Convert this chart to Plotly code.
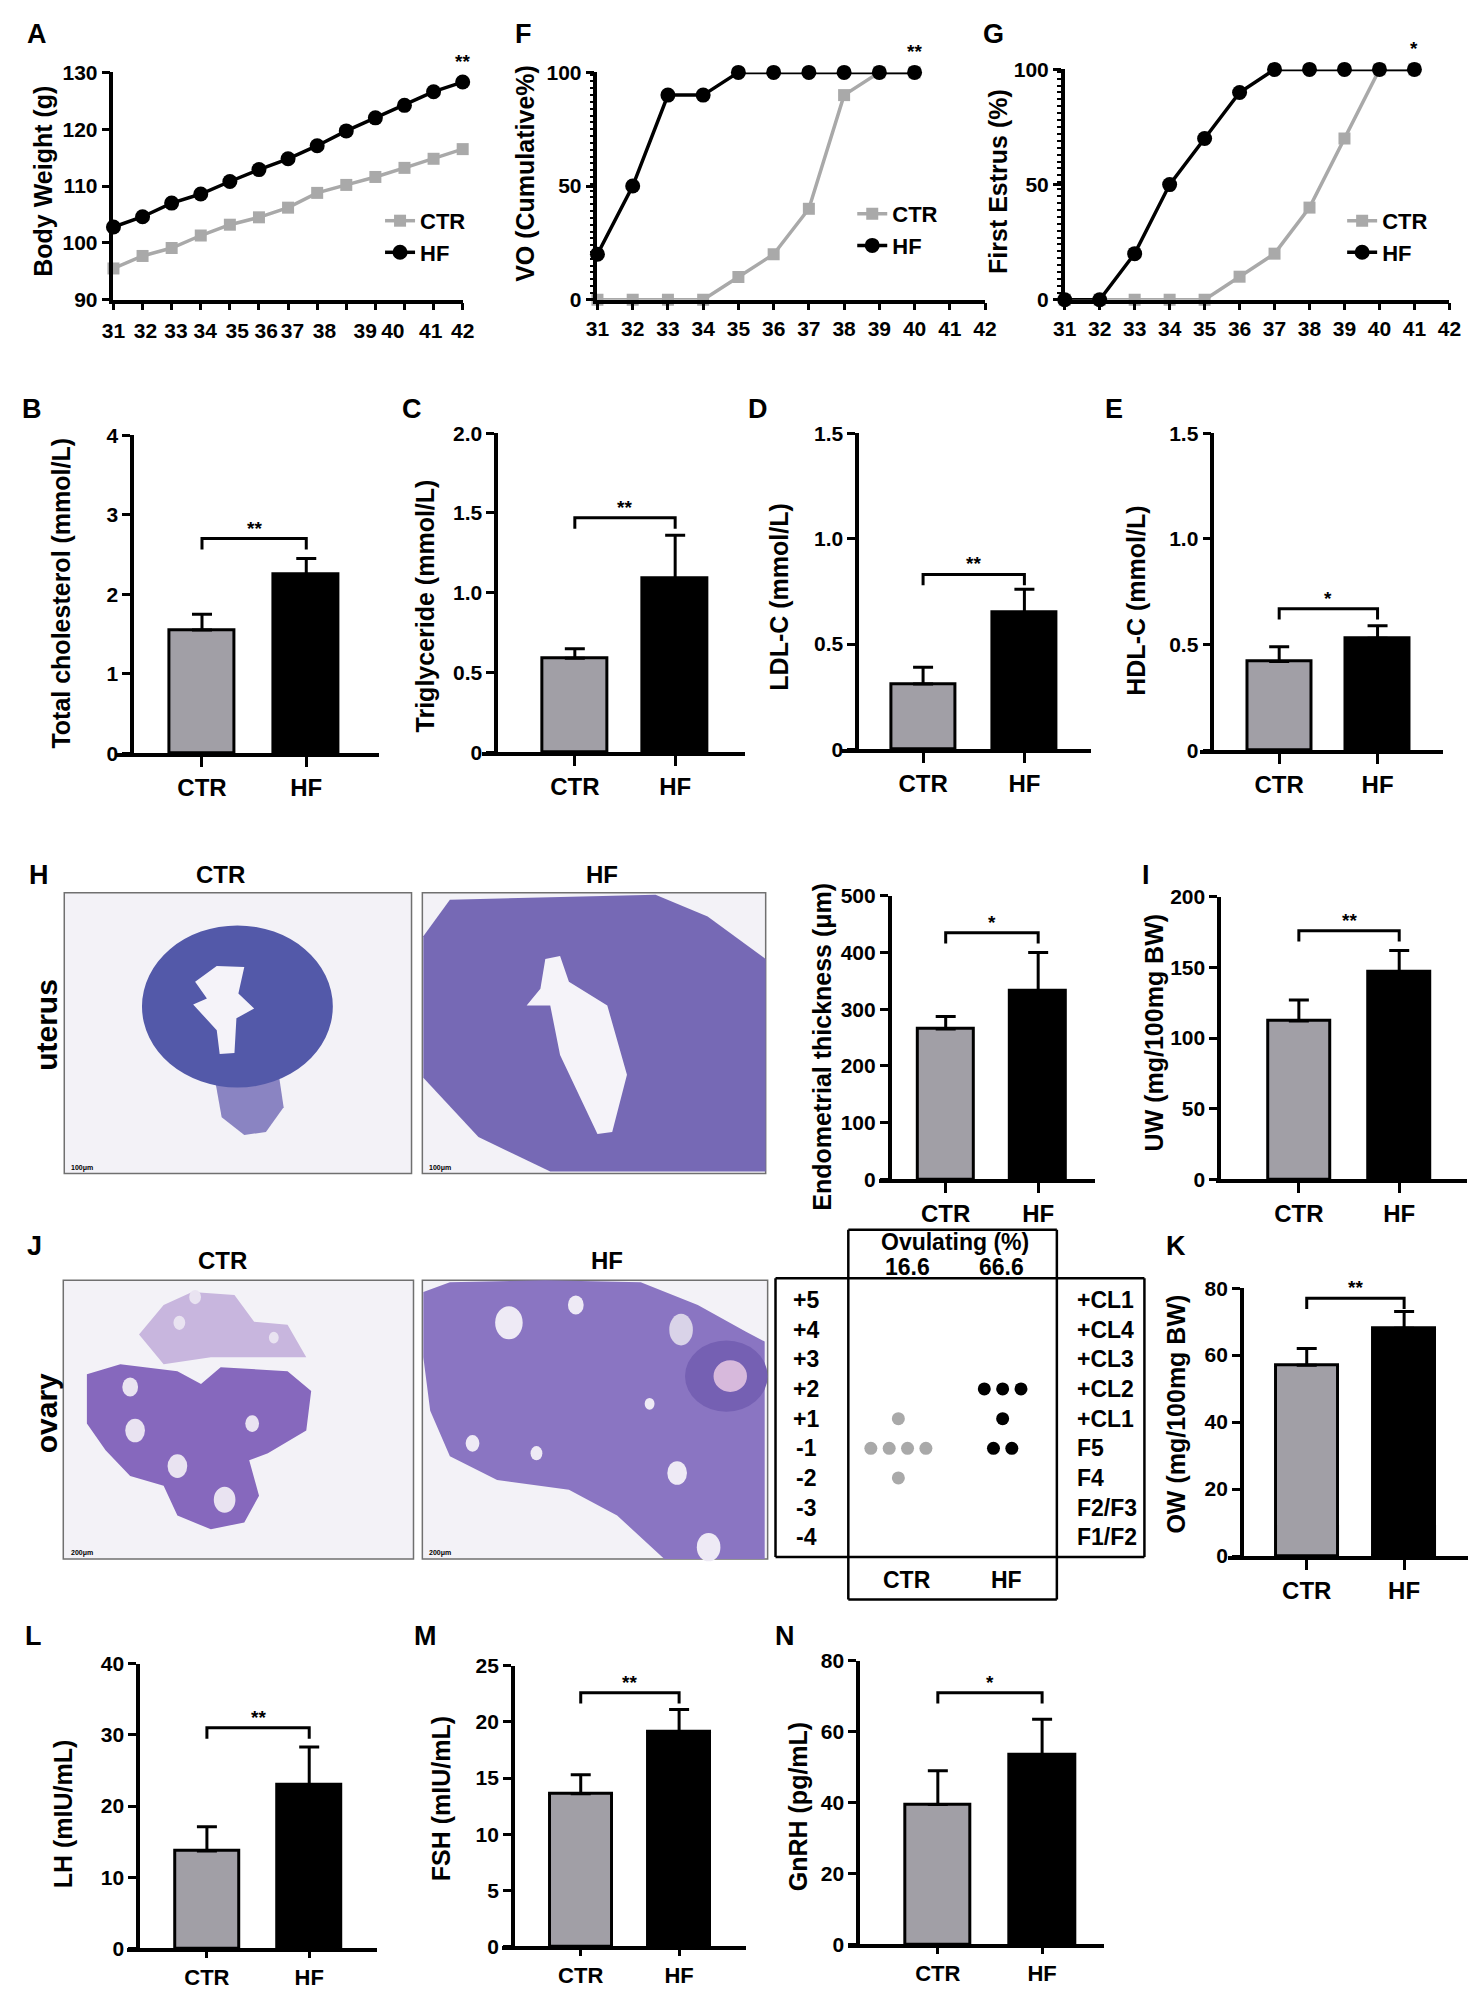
import plotly.graph_objects as go

W, H = 1476, 1989
FONT = "Arial, 'Liberation Sans', Helvetica, sans-serif"
GREY_BAR = "#a19fa6"
GREY_LINE = "#a9a9a9"

groups = ["CTR", "HF"]

# A - body weight (13 weighings, day labels 31..42)
bw_index = list(range(13))
bw_ctr = [95.5, 97.7, 99.1, 101.3, 103.2, 104.5, 106.2, 108.8, 110.2, 111.6, 113.2, 114.8, 116.5]
bw_hf = [102.8, 104.6, 107.0, 108.6, 110.8, 112.9, 114.8, 117.1, 119.7, 122.0, 124.2, 126.6, 128.3]
bw_day_labels = ["31", "32", "33", "34", "35", "36", "37", "38", "39", "40", "41", "42"]
bw_day_pos = [0, 1.1, 2.15, 3.15, 4.25, 5.25, 6.15, 7.25, 8.65, 9.6, 10.9, 12]

# F - vaginal opening
vo_days = [31, 32, 33, 34, 35, 36, 37, 38, 39, 40]
vo_ctr = [0, 0, 0, 0, 10, 20, 40, 90, 100, 100]
vo_hf = [20, 50, 90, 90, 100, 100, 100, 100, 100, 100]

# G - first estrus
fe_days = [31, 32, 33, 34, 35, 36, 37, 38, 39, 40, 41]
fe_ctr = [0, 0, 0, 0, 0, 10, 20, 40, 70, 100, 100]
fe_hf = [0, 0, 20, 50, 70, 90, 100, 100, 100, 100, 100]

# bar panels: mean, sd
tc_mean, tc_sd = [1.55, 2.25], [0.20, 0.20]
tg_mean, tg_sd = [0.59, 1.09], [0.06, 0.27]
ldl_mean, ldl_sd = [0.31, 0.65], [0.08, 0.11]
hdl_mean, hdl_sd = [0.42, 0.53], [0.07, 0.06]
endo_mean, endo_sd = [265, 333], [22, 67]
uw_mean, uw_sd = [112, 147], [15, 15]
ow_mean, ow_sd = [57, 68], [5, 5]
lh_mean, lh_sd = [13.7, 23.0], [3.4, 5.3]
fsh_mean, fsh_sd = [13.6, 19.1], [1.7, 2.0]
gnrh_mean, gnrh_sd = [39.5, 53.5], [9.5, 10.0]

# J - ovulation staging dot chart
stage_left = ["+5", "+4", "+3", "+2", "+1", "-1", "-2", "-3", "-4"]
stage_right = ["+CL1", "+CL4", "+CL3", "+CL2", "+CL1", "F5", "F4", "F2/F3", "F1/F2"]
ctr_counts = [0, 0, 0, 0, 1, 4, 1, 0, 0]
hf_counts = [0, 0, 0, 3, 1, 2, 0, 0, 0]
ovulating = ["16.6", "66.6"]

TICK_NUM = 21
TICK_CAT = 24
TITLE = 25

fig = go.Figure()
layout = {}
shapes = []
annotations = []
n_axes = [0]


def px(x):
    return x / W


def py(y):
    return 1 - y / H


def bold(size, color="black"):
    return dict(family=FONT, size=size, color=color, weight="bold")


def new_axes():
    n_axes[0] += 1
    s = "" if n_axes[0] == 1 else str(n_axes[0])
    return "xaxis" + s, "yaxis" + s, "x" + s, "y" + s


def text(x, y, s, size=22, angle=0, xanchor="center", yanchor="middle", weight="bold"):
    annotations.append(dict(x=px(x), y=py(y), xref="paper", yref="paper", text=s,
                            showarrow=False, textangle=angle, xanchor=xanchor,
                            yanchor=yanchor,
                            font=dict(family=FONT, size=size, color="black", weight=weight)))


AX = dict(showline=True, linecolor="black", linewidth=3.5, ticks="outside",
          tickwidth=3, tickcolor="black", showgrid=False, zeroline=False, tickangle=0)


def bar_panel(means, sds, stars, bracket, ymax, ticks, ticklabels, title, tx, ty, box,
              cat_size=TICK_CAT, cat_len=10):
    xl, ya, xr, ctr, hf, bw, ytop, ybot = box
    xa, yan, xref, yref = new_axes()
    unit = hf - ctr
    layout[xa] = dict(AX, domain=[px(xl), px(xr)], range=[-(ctr - xl) / unit, (xr - ctr) / unit],
                      anchor=yref, tickvals=[0, 1], ticktext=groups, ticklen=cat_len,
                      tickfont=bold(cat_size))
    layout[yan] = dict(AX, domain=[py(ybot), py(ytop)], range=[0, ymax], anchor="free",
                       position=px(ya), tickvals=ticks, ticktext=ticklabels, ticklen=8,
                       tickfont=bold(TICK_NUM))
    fig.add_trace(go.Bar(x=[0, 1], y=means, width=bw / unit, xaxis=xref, yaxis=yref,
                         marker=dict(color=[GREY_BAR, "black"], line=dict(color="black", width=3)),
                         error_y=dict(type="data", array=sds, arrayminus=[0, 0], symmetric=False,
                                      color="black", thickness=3, width=10),
                         showlegend=False))
    d = 11 / (ybot - ytop) * ymax
    shapes.append(dict(type="path", xref=xref, yref=yref,
                       path=f"M 0,{bracket - d} L 0,{bracket} L 1,{bracket} L 1,{bracket - d}",
                       line=dict(color="black", width=3)))
    annotations.append(dict(x=0.5, y=bracket, xref=xref, yref=yref, text=stars, showarrow=False,
                            yanchor="bottom", yshift=-2, font=bold(19)))
    text(tx, ty, title, size=TITLE, angle=-90)


def line_panel(xs, ctr, hf, xrange, xticks, xlabels, yrange, yticks, title, tx, ty, box,
               legend, lx, ly, star, star_x, star_y, minor=False, split_ticks=False):
    x0, x1, ytop, ybot = box
    xa, yan, xref, yref = new_axes()
    xax = dict(AX, domain=[px(x0), px(x1)], range=xrange, anchor=yref,
               tickvals=xticks, ticktext=xlabels, ticklen=7, tickfont=bold(TICK_NUM))
    if split_ticks:
        # tick marks sit on the weighings, labels drift slightly apart as in the source
        xax.update(ticks="", ticklabelstandoff=9,
                   minor=dict(tickmode="linear", tick0=0, dtick=1, ticks="outside",
                              ticklen=7, tickwidth=3, tickcolor="black"))
    layout[xa] = xax
    ya = dict(AX, domain=[py(ybot), py(ytop)], range=yrange, anchor=xref,
              tickvals=yticks, ticktext=[str(v) for v in yticks], ticklen=8,
              tickfont=bold(TICK_NUM))
    if minor:
        ya["minor"] = dict(tickmode="linear", tick0=0, dtick=3, ticklen=4, tickwidth=2,
                           tickcolor="black", ticks="outside")
    layout[yan] = ya
    fig.add_trace(go.Scatter(x=xs, y=ctr, mode="lines+markers", name="CTR", xaxis=xref, yaxis=yref,
                             line=dict(color=GREY_LINE, width=3.5),
                             marker=dict(symbol="square", size=12, color=GREY_LINE),
                             cliponaxis=False, legend=legend))
    fig.add_trace(go.Scatter(x=xs, y=hf, mode="lines+markers", name="HF", xaxis=xref, yaxis=yref,
                             line=dict(color="black", width=3.5),
                             marker=dict(symbol="circle", size=15, color="black"),
                             cliponaxis=False, legend=legend))
    layout[legend] = dict(x=px(lx), y=py(ly), xanchor="left", yanchor="top",
                          bgcolor="rgba(0,0,0,0)", font=bold(22), tracegroupgap=0,
                          itemwidth=30)
    annotations.append(dict(x=star_x, y=star_y, xref=xref, yref=yref, text=star, showarrow=False,
                            yanchor="bottom", yshift=8, font=bold(19)))
    text(tx, ty, title, size=TITLE, angle=-90)


# ---------- row 1: A, F, G ----------
line_panel(bw_index, bw_ctr, bw_hf, [0, 12], bw_day_pos, bw_day_labels, [90, 130],
           [90, 100, 110, 120, 130], "Body Weight (g)", 24, 163, (95, 450, 53, 283),
           "legend", 366, 182, "**", 12, bw_hf[-1], split_ticks=True)
line_panel(vo_days, vo_ctr, vo_hf, [31, 42], list(range(31, 43)), [str(d) for d in range(31, 43)],
           [0, 100], [0, 50, 100], "VO (Cumulative%)", 514, 155, (587, 981, 53, 283),
           "legend2", 846, 175, "**", 40, 100, minor=True)
line_panel(fe_days, fe_ctr, fe_hf, [31, 42], list(range(31, 43)), [str(d) for d in range(31, 43)],
           [0, 100], [0, 50, 100], "First Estrus (%)", 994, 163, (1062, 1453, 50, 283),
           "legend3", 1344, 182, "*", 41, 100, minor=True)

# ---------- row 2: B, C, D, E ----------
bar_panel(tc_mean, tc_sd, "**", 2.7, 4, [0, 1, 2, 3, 4], ["0", "1", "2", "3", "4"],
          "Total cholesterol (mmol/L)", 42, 580, (98, 114, 365, 185, 291, 66, 420, 742))
bar_panel(tg_mean, tg_sd, "**", 1.47, 2.0, [0, 0.5, 1.0, 1.5, 2.0], ["0", "0.5", "1.0", "1.5", "2.0"],
          "Triglyceride (mmol/L)", 412, 593, (470, 484, 737, 564, 666, 66, 418, 741))
bar_panel(ldl_mean, ldl_sd, "**", 0.83, 1.5, [0, 0.5, 1.0, 1.5], ["0", "0.5", "1.0", "1.5"],
          "LDL-C (mmol/L)", 772, 584, (836, 851, 1089, 918, 1021, 65, 418, 738))
bar_panel(hdl_mean, hdl_sd, "*", 0.67, 1.5, [0, 0.5, 1.0, 1.5], ["0", "0.5", "1.0", "1.5"],
          "HDL-C (mmol/L)", 1135, 588, (1200, 1212, 1447, 1280, 1380, 65, 418, 739))

# ---------- row 3: H, I ----------
bar_panel(endo_mean, endo_sd, "*", 435, 500, [0, 100, 200, 300, 400, 500],
          ["0", "100", "200", "300", "400", "500"],
          "Endometrial thickness (μm)", 815, 1039, (873, 884, 1093, 941, 1035, 57, 886, 1173))
bar_panel(uw_mean, uw_sd, "**", 176, 200, [0, 50, 100, 150, 200], ["0", "50", "100", "150", "200"],
          "UW (mg/100mg BW)", 1153, 1024, (1216, 1219, 1471, 1300, 1402, 63, 887, 1173))

# ---------- row 4: K ----------
bar_panel(ow_mean, ow_sd, "**", 77, 80, [0, 20, 40, 60, 80], ["0", "20", "40", "60", "80"],
          "OW (mg/100mg BW)", 1175, 1410, (1228, 1242, 1476, 1308, 1407, 63, 1283, 1554))

# ---------- row 5: L, M, N ----------
bar_panel(lh_mean, lh_sd, "**", 31, 40, [0, 10, 20, 30, 40], ["0", "10", "20", "30", "40"],
          "LH (mIU/mL)", 44, 1815, (109, 120, 363, 190, 294, 65, 1663, 1951),
          cat_size=22, cat_len=6)
bar_panel(fsh_mean, fsh_sd, "**", 22.6, 25, [0, 5, 10, 15, 20, 25], ["0", "5", "10", "15", "20", "25"],
          "FSH (mIU/mL)", 428, 1800, (490, 501, 738, 570, 670, 63, 1665, 1949),
          cat_size=22, cat_len=6)
bar_panel(gnrh_mean, gnrh_sd, "*", 71, 80, [0, 20, 40, 60, 80], ["0", "20", "40", "60", "80"],
          "GnRH (pg/mL)", 791, 1808, (842, 852, 1102, 933, 1039, 67, 1660, 1947),
          cat_size=22, cat_len=6)

# ---------- dot chart (J) ----------
xa, yan, xref, yref = new_axes()
layout[xa] = dict(domain=[px(842), px(1054)], range=[0, 1], visible=False, anchor=yref)
layout[yan] = dict(domain=[py(1555), py(1273)], range=[8.667, -0.733], visible=False, anchor=xref)
for counts, cx, color in [(ctr_counts, 0.24, GREY_LINE), (hf_counts, 0.74, "black")]:
    dx, dy = [], []
    for row, n in enumerate(counts):
        for k in range(n):
            dx.append(cx + (k - (n - 1) / 2) * 0.088)
            dy.append(row)
    fig.add_trace(go.Scatter(x=dx, y=dy, mode="markers", xaxis=xref, yaxis=yref, showlegend=False,
                             marker=dict(size=13, color=color, symbol="circle")))
for row, (lab_l, lab_r) in enumerate(zip(stage_left, stage_right)):
    annotations.append(dict(x=px(799), y=row, xref="paper", yref=yref, text=lab_l, showarrow=False,
                            xanchor="center", font=bold(23)))
    annotations.append(dict(x=px(1072), y=row, xref="paper", yref=yref, text=lab_r, showarrow=False,
                            xanchor="left", font=bold(23)))
text(950, 1236, "Ovulating (%)", size=23)
text(902, 1262, ovulating[0], size=23)
text(998, 1262, ovulating[1], size=23)
text(902, 1578, groups[0], size=23)
text(1003, 1578, groups[1], size=23)


def seg(x0, y0, x1, y1, w=2.5):
    shapes.append(dict(type="line", xref="paper", yref="paper", x0=px(x0), y0=py(y0),
                       x1=px(x1), y1=py(y1), line=dict(color="black", width=w)))


seg(768, 1273, 1143, 1273)
seg(768, 1555, 1143, 1555)
seg(768, 1273, 768, 1555)
seg(1143, 1273, 1143, 1555)
seg(842, 1224, 842, 1598)
seg(1054, 1224, 1054, 1598)
seg(842, 1224, 1054, 1224)
seg(842, 1598, 1054, 1598)


# ---------- histology sketches (H, J) ----------
def rect(x0, y0, x1, y1, fill, line="#707070", lw=1.5):
    shapes.append(dict(type="rect", xref="paper", yref="paper", x0=px(x0), y0=py(y0),
                       x1=px(x1), y1=py(y1), fillcolor=fill, line=dict(color=line, width=lw),
                       layer="below"))


def poly(points, fill):
    d = "M " + " L ".join(f"{px(x):.5f},{py(y):.5f}" for x, y in points) + " Z"
    shapes.append(dict(type="path", xref="paper", yref="paper", path=d, fillcolor=fill,
                       line=dict(width=0, color=fill), layer="below"))


def oval(cx, cy, rx, ry, fill):
    shapes.append(dict(type="circle", xref="paper", yref="paper", x0=px(cx - rx), y0=py(cy + ry),
                       x1=px(cx + rx), y1=py(cy - ry), fillcolor=fill,
                       line=dict(width=0, color=fill), layer="below"))


BG = "#f3f2f7"
LUMEN = "#f5f3f9"
# uterus CTR
rect(45, 883, 398, 1167, BG)
poly([(196, 1060), (262, 1060), (268, 1100), (250, 1125), (228, 1128), (205, 1110)], "#8a84c2")
oval(221, 998, 97, 82, "#5359a9")
poly([(178, 973), (200, 957), (228, 958), (222, 985), (238, 1000), (220, 1010), (218, 1045),
      (203, 1046), (200, 1022), (176, 996), (190, 990)], LUMEN)
# uterus HF
rect(409, 883, 758, 1167, BG)
poly([(410, 927), (437, 890), (646, 885), (699, 907), (758, 950), (758, 1165), (539, 1165),
      (466, 1130), (410, 1070)], "#7669b5")
poly([(534, 950), (549, 947), (558, 973), (597, 997), (617, 1067), (602, 1125), (587, 1127),
      (549, 1047), (539, 997), (515, 997), (529, 980)], LUMEN)
# ovary CTR
rect(44, 1275, 400, 1557, BG)
poly([(121, 1330), (146, 1300), (175, 1287), (218, 1290), (238, 1317), (272, 1320), (291, 1353),
      (243, 1353), (194, 1353), (146, 1360)], "#c8b6de")
poly([(68, 1370), (102, 1360), (160, 1367), (184, 1380), (204, 1363), (272, 1367), (296, 1387),
      (291, 1427), (252, 1450), (233, 1457), (243, 1493), (228, 1520), (194, 1527), (160, 1513),
      (146, 1483), (112, 1473), (87, 1447), (68, 1420)], "#8668bd")
for cx, cy, r in [(117, 1427, 10), (112, 1383, 8), (160, 1463, 10), (208, 1497, 11), (236, 1420, 7),
                  (178, 1292, 6), (162, 1318, 6), (258, 1333, 5)]:
    oval(cx, cy, r, r * 1.2, "#e9e3f1")
# ovary HF
rect(409, 1275, 760, 1557, BG)
poly([(410, 1287), (437, 1277), (534, 1275), (631, 1277), (689, 1300), (738, 1327), (757, 1337),
      (757, 1557), (655, 1557), (607, 1513), (558, 1487), (485, 1477), (437, 1453), (417, 1407),
      (410, 1353)], "#8a75c2")
oval(718, 1372, 42, 36, "#7560b3")
oval(722, 1372, 17, 16, "#d7b9dc")
oval(672, 1325, 12, 16, "#d9d3e8")
for cx, cy, r in [(497, 1318, 14), (565, 1300, 8), (460, 1440, 7), (525, 1450, 6), (640, 1400, 5),
                  (700, 1545, 12), (668, 1470, 10)]:
    oval(cx, cy, r, r * 1.2, "#eeeaf5")
text(50, 1161, "100μm", size=7, xanchor="left")
text(414, 1161, "100μm", size=7, xanchor="left")
text(50, 1551, "200μm", size=7, xanchor="left")
text(414, 1551, "200μm", size=7, xanchor="left")

text(204, 865, "CTR", size=24)
text(592, 865, "HF", size=24)
text(206, 1255, "CTR", size=24)
text(597, 1255, "HF", size=24)
text(27, 1017, "uterus", size=30, angle=-90)
text(27, 1410, "ovary", size=30, angle=-90)

# panel letters
for letter, x, y in [("A", 17, 14), ("F", 512, 14), ("G", 990, 14), ("B", 12, 394), ("C", 398, 394),
                     ("D", 750, 394), ("E", 1112, 394), ("H", 19, 865), ("I", 1145, 865),
                     ("J", 15, 1240), ("K", 1175, 1240), ("L", 14, 1635), ("M", 412, 1635),
                     ("N", 778, 1635)]:
    text(x, y, letter, size=27)

fig.update_layout(layout)
fig.update_layout(width=W, height=H, margin=dict(l=0, r=0, t=0, b=0),
                  paper_bgcolor="white", plot_bgcolor="white",
                  font=dict(family=FONT, color="black"),
                  shapes=shapes, annotations=annotations, bargap=0)

fig.write_html("out.html")
